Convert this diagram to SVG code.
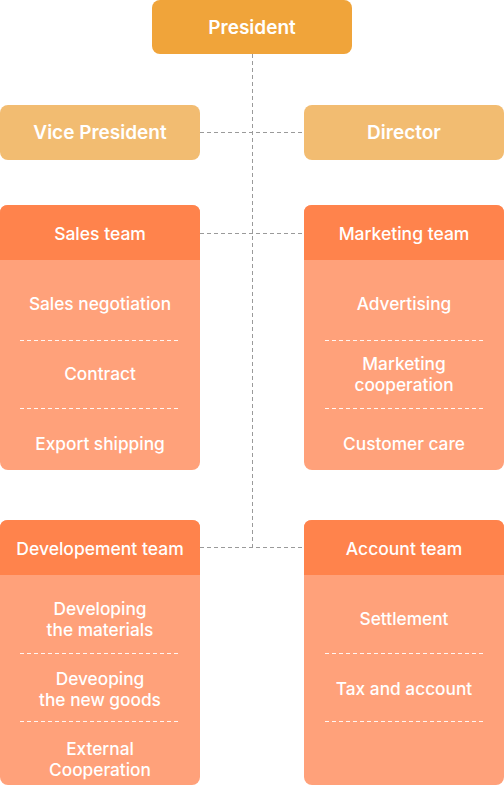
<svg xmlns="http://www.w3.org/2000/svg" width="504" height="785" viewBox="0 0 504 785">
<style>
.t{font-family:Inter,"Noto Sans",sans-serif;fill:#fff;text-anchor:middle;dominant-baseline:central}
.big{font-size:19px;font-weight:600}
.hd{font-size:17.5px;font-weight:500}
.it{font-size:17.3px;font-weight:500}
.conn{stroke:#9a9a9a;stroke-width:1;stroke-dasharray:4 3;fill:none}
.div{stroke:#fff;stroke-width:1;stroke-dasharray:4 3;fill:none;opacity:0.9}
.body{fill:#FFA17A}
.head{fill:#FF834C}
</style>
<g id="connectors">
<path class="conn" d="M252.5 54 V547.5"/>
<path class="conn" d="M200 132.5 H304"/>
<path class="conn" d="M200 233.5 H304"/>
<path class="conn" d="M200 547.5 H304"/>
</g>
<g id="president">
<rect x="152" y="0" width="200" height="54" rx="8" fill="#F0A43A"/>
<text class="t big" x="252" y="27">President</text>
</g>
<g id="vice-president">
<rect x="0" y="105" width="200" height="55" rx="8" fill="#F2BC71"/>
<text class="t big" x="100" y="132.5">Vice President</text>
</g>
<g id="director">
<rect x="304" y="105" width="200" height="55" rx="8" fill="#F2BC71"/>
<text class="t big" x="404" y="132.5">Director</text>
</g>
<g id="sales-team">
<rect class="body" x="0" y="205" width="200" height="265" rx="8"/>
<path class="head" d="M0 260 V213 Q0 205 8 205 H192 Q200 205 200 213 V260 Z"/>
<text class="t hd" x="100" y="233">Sales team</text>
<text class="t it" x="100" y="303">Sales negotiation</text>
<path class="div" d="M20 340.5 H180"/>
<text class="t it" x="100" y="373">Contract</text>
<path class="div" d="M20 408.5 H180"/>
<text class="t it" x="100" y="443">Export shipping</text>
</g>
<g id="marketing-team">
<rect class="body" x="304" y="205" width="200" height="265" rx="8"/>
<path class="head" d="M304 260 V213 Q304 205 312 205 H496 Q504 205 504 213 V260 Z"/>
<text class="t hd" x="404" y="233">Marketing team</text>
<text class="t it" x="404" y="303">Advertising</text>
<path class="div" d="M325 340.5 H485"/>
<text class="t it" x="404" y="363">Marketing</text>
<text class="t it" x="404" y="384">cooperation</text>
<path class="div" d="M325 408.5 H485"/>
<text class="t it" x="404" y="443">Customer care</text>
</g>
<g id="development-team">
<rect class="body" x="0" y="520" width="200" height="265" rx="8"/>
<path class="head" d="M0 575 V528 Q0 520 8 520 H192 Q200 520 200 528 V575 Z"/>
<text class="t hd" x="100" y="548">Developement team</text>
<text class="t it" x="100" y="608">Developing</text>
<text class="t it" x="100" y="629">the materials</text>
<path class="div" d="M20 653.5 H180"/>
<text class="t it" x="100" y="678">Deveoping</text>
<text class="t it" x="100" y="699">the new goods</text>
<path class="div" d="M20 721.5 H180"/>
<text class="t it" x="100" y="748">External</text>
<text class="t it" x="100" y="769">Cooperation</text>
</g>
<g id="account-team">
<rect class="body" x="304" y="520" width="200" height="265" rx="8"/>
<path class="head" d="M304 575 V528 Q304 520 312 520 H496 Q504 520 504 528 V575 Z"/>
<text class="t hd" x="404" y="548">Account team</text>
<text class="t it" x="404" y="618">Settlement</text>
<path class="div" d="M325 653.5 H485"/>
<text class="t it" x="404" y="688">Tax and account</text>
<path class="div" d="M325 721.5 H485"/>
</g>
</svg>
